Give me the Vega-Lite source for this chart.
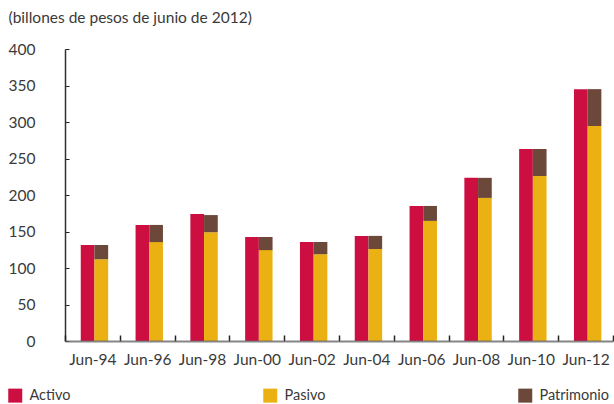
{
  "$schema": "https://vega.github.io/schema/vega-lite/v6.json",
  "width": 548,
  "height": 292,
  "autosize": "none",
  "padding": {"left": 65, "top": 49, "right": 1, "bottom": 63},
  "background": "white",
  "config": {
    "font": "Lato",
    "view": {"stroke": null},
    "axis": {"labelFont": "Lato", "labelFontSize": 15.5, "labelColor": "#3a3a3a", "titleFont": "Lato"},
    "legend": {"labelFont": "Lato"}
  },
  "data": {
    "values": [
      {"fecha": "Jun-94", "serie": "Activo", "barra": "A", "orden": 0, "valor": 131.5},
      {"fecha": "Jun-94", "serie": "Pasivo", "barra": "B", "orden": 1, "valor": 112},
      {"fecha": "Jun-94", "serie": "Patrimonio", "barra": "B", "orden": 2, "valor": 19.5},
      {"fecha": "Jun-96", "serie": "Activo", "barra": "A", "orden": 0, "valor": 159},
      {"fecha": "Jun-96", "serie": "Pasivo", "barra": "B", "orden": 1, "valor": 135.5},
      {"fecha": "Jun-96", "serie": "Patrimonio", "barra": "B", "orden": 2, "valor": 23.5},
      {"fecha": "Jun-98", "serie": "Activo", "barra": "A", "orden": 0, "valor": 174},
      {"fecha": "Jun-98", "serie": "Pasivo", "barra": "B", "orden": 1, "valor": 149},
      {"fecha": "Jun-98", "serie": "Patrimonio", "barra": "B", "orden": 2, "valor": 23.5},
      {"fecha": "Jun-00", "serie": "Activo", "barra": "A", "orden": 0, "valor": 142.5},
      {"fecha": "Jun-00", "serie": "Pasivo", "barra": "B", "orden": 1, "valor": 124.5},
      {"fecha": "Jun-00", "serie": "Patrimonio", "barra": "B", "orden": 2, "valor": 18},
      {"fecha": "Jun-02", "serie": "Activo", "barra": "A", "orden": 0, "valor": 135.5},
      {"fecha": "Jun-02", "serie": "Pasivo", "barra": "B", "orden": 1, "valor": 119},
      {"fecha": "Jun-02", "serie": "Patrimonio", "barra": "B", "orden": 2, "valor": 16.5},
      {"fecha": "Jun-04", "serie": "Activo", "barra": "A", "orden": 0, "valor": 144},
      {"fecha": "Jun-04", "serie": "Pasivo", "barra": "B", "orden": 1, "valor": 126},
      {"fecha": "Jun-04", "serie": "Patrimonio", "barra": "B", "orden": 2, "valor": 18},
      {"fecha": "Jun-06", "serie": "Activo", "barra": "A", "orden": 0, "valor": 185},
      {"fecha": "Jun-06", "serie": "Pasivo", "barra": "B", "orden": 1, "valor": 164.5},
      {"fecha": "Jun-06", "serie": "Patrimonio", "barra": "B", "orden": 2, "valor": 20.5},
      {"fecha": "Jun-08", "serie": "Activo", "barra": "A", "orden": 0, "valor": 223.5},
      {"fecha": "Jun-08", "serie": "Pasivo", "barra": "B", "orden": 1, "valor": 196},
      {"fecha": "Jun-08", "serie": "Patrimonio", "barra": "B", "orden": 2, "valor": 27.5},
      {"fecha": "Jun-10", "serie": "Activo", "barra": "A", "orden": 0, "valor": 263},
      {"fecha": "Jun-10", "serie": "Pasivo", "barra": "B", "orden": 1, "valor": 226},
      {"fecha": "Jun-10", "serie": "Patrimonio", "barra": "B", "orden": 2, "valor": 37},
      {"fecha": "Jun-12", "serie": "Activo", "barra": "A", "orden": 0, "valor": 345},
      {"fecha": "Jun-12", "serie": "Pasivo", "barra": "B", "orden": 1, "valor": 294.5},
      {"fecha": "Jun-12", "serie": "Patrimonio", "barra": "B", "orden": 2, "valor": 50.5}
    ]
  },
  "mark": {"type": "bar"},
  "encoding": {
    "x": {
      "field": "fecha",
      "type": "nominal",
      "sort": null,
      "scale": {"paddingInner": 0, "paddingOuter": 0},
      "axis": {
        "title": null,
        "labelAngle": 0,
        "tickBand": "extent",
        "tickSize": -6,
        "tickColor": "#222222",
        "tickWidth": 1.5,
        "labelPadding": 17,
        "domainColor": "#666666",
        "domainWidth": 2,
        "domainOpacity": 0.8,
        "zindex": 1
      }
    },
    "xOffset": {
      "field": "barra",
      "type": "nominal",
      "scale": {"paddingInner": 0, "paddingOuter": 1.03, "align": 0.575}
    },
    "y": {
      "field": "valor",
      "type": "quantitative",
      "stack": "zero",
      "scale": {"domain": [0, 400], "nice": false},
      "axis": {
        "values": [0, 50, 100, 150, 200, 250, 300, 350, 400],
        "grid": false,
        "tickSize": -4,
        "tickColor": "#222222",
        "labelPadding": 34,
        "domainColor": "#333333",
        "domainWidth": 1.5,
        "title": "(billones de pesos de junio de 2012)",
        "titleAngle": 0,
        "titleAlign": "left",
        "titleBaseline": "alphabetic",
        "titleX": -57,
        "titleY": -27,
        "titleFontSize": 15.5,
        "titleFontWeight": "normal",
        "titleColor": "#3a3a3a"
      }
    },
    "color": {
      "field": "serie",
      "type": "nominal",
      "scale": {"domain": ["Activo", "Pasivo", "Patrimonio"], "range": ["#CC0E41", "#EBB012", "#6B4839"]},
      "legend": {
        "title": null,
        "orient": "none",
        "legendX": -57,
        "legendY": 339,
        "direction": "horizontal",
        "columns": 3,
        "gridAlign": "all",
        "columnPadding": 164,
        "symbolType": "square",
        "symbolSize": 196,
        "symbolStrokeWidth": 0,
        "labelFontSize": 14.5,
        "labelColor": "#3a3a3a",
        "labelOffset": 7
      }
    },
    "order": {"field": "orden", "type": "quantitative"}
  }
}
